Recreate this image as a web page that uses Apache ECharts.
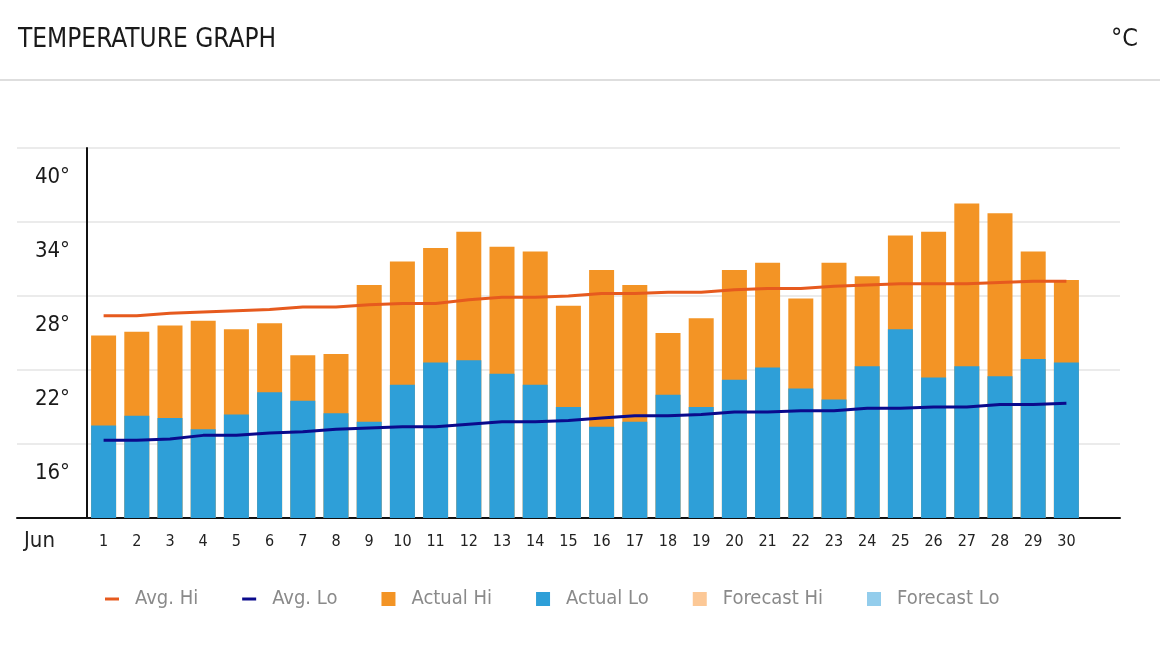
<!DOCTYPE html>
<html>
<head>
<meta charset="utf-8">
<script src="https://cdn.jsdelivr.net/npm/echarts@6/dist/echarts.min.js"></script>
<style>
html,body{margin:0;padding:0;background:#fff;}
#chart{width:1160px;height:648px;}
</style>
</head>
<body>
<div id="chart"></div>
<script>
const days = ['1','2','3','4','5','6','7','8','9','10','11','12','13','14','15','16','17','18','19','20','21','22','23','24','25','26','27','28','29','30'];
const avgHi = [26.4,26.4,26.6,26.7,26.8,26.9,27.1,27.1,27.3,27.4,27.4,27.7,27.9,27.9,28.0,28.2,28.2,28.3,28.3,28.5,28.6,28.6,28.8,28.9,29.0,29.0,29.0,29.1,29.2,29.2];
const avgLo = [16.3,16.3,16.4,16.7,16.7,16.9,17.0,17.2,17.3,17.4,17.4,17.6,17.8,17.8,17.9,18.1,18.3,18.3,18.4,18.6,18.6,18.7,18.7,18.9,18.9,19.0,19.0,19.2,19.2,19.3];
const actualHi = [24.8,25.1,25.6,26.0,25.3,25.8,23.2,23.3,28.9,30.8,31.9,33.2,32.0,31.6,27.2,30.1,28.9,25.0,26.2,30.1,30.7,27.8,30.7,29.6,32.9,33.2,35.5,34.7,31.6,29.3];
const actualLo = [17.5,18.3,18.1,17.2,18.4,20.2,19.5,18.5,17.8,20.8,22.6,22.8,21.7,20.8,19.0,17.4,17.8,20.0,19.0,21.2,22.2,20.5,19.6,22.3,25.3,21.4,22.3,21.5,22.9,22.6];
const forecastHi = [];
const forecastLo = [];
const yMin = 10, yMax = 40, yStep = 6;
const monthLabel = 'Jun';

const FONT = '"Liberation Sans Narrow", "DejaVu Sans Condensed", Roboto, sans-serif';
const LINE_ICON = 'path://M0,0M14,14M0,5.5L14,5.5L14,8.5L0,8.5Z';
const chart = echarts.init(document.getElementById('chart'), null, {renderer:'canvas'});
chart.setOption({
  backgroundColor:'#fff',
  animation:false,
  textStyle:{fontFamily:FONT},
  graphic:[
    {type:'text', left:18, top:27, style:{text:'TEMPERATURE GRAPH', font:'26px ' + FONT, fill:'#1a1a1a'}},
    {type:'text', right:22, top:27, style:{text:'°C', font:'25px ' + FONT, fill:'#1a1a1a'}},
    {type:'rect', left:0, top:79, shape:{width:1160, height:2}, style:{fill:'#dedede'}},
    {type:'text', left:24, top:530, style:{text:monthLabel, font:'22px ' + FONT, fill:'#222'}}
  ],
  legend:{
    bottom:34, left:100,
    itemWidth:14, itemHeight:14, itemGap:44,
    textStyle:{color:'#8a8a8a', fontSize:20, fontFamily:FONT, padding:[0,0,0,11]},
    data:[
      {name:'Avg. Hi', icon:LINE_ICON},
      {name:'Avg. Lo', icon:LINE_ICON},
      {name:'Actual Hi', icon:'rect'},
      {name:'Actual Lo', icon:'rect'},
      {name:'Forecast Hi', icon:'rect'},
      {name:'Forecast Lo', icon:'rect'}
    ]
  },
  grid:[
    {left:17, right:40, top:148, bottom:130},
    {left:87, right:77, top:148, bottom:130}
  ],
  xAxis:[
    {type:'category', gridIndex:0, data:days, axisLine:{show:true, lineStyle:{color:'#111', width:2}}, axisTick:{show:false}, axisLabel:{show:false}},
    {type:'category', gridIndex:1, data:days, axisLine:{show:false}, axisTick:{show:false},
     axisLabel:{color:'#222', fontSize:16, fontFamily:FONT, margin:16}}
  ],
  yAxis:[
    {type:'value', gridIndex:0, min:yMin, max:yMax, interval:yStep, axisLine:{show:false}, axisTick:{show:false}, axisLabel:{show:false},
     splitLine:{show:true, lineStyle:{color:'#e5e5e5', width:1.5}}},
    {type:'value', gridIndex:1, min:yMin, max:yMax, interval:yStep, axisLine:{show:true, lineStyle:{color:'#111', width:2}}, axisTick:{show:false},
     splitLine:{show:false},
     axisLabel:{color:'#1a1a1a', fontSize:22, fontFamily:FONT, margin:17, verticalAlign:'top', padding:[18,0,0,0],
       formatter:function(v){return v===yMin?'':v+'°';}}}
  ],
  series:[
    {name:'Actual Hi', type:'bar', xAxisIndex:1, yAxisIndex:1, data:actualHi, barWidth:25, barGap:'-100%', itemStyle:{color:'#f39425'}},
    {name:'Actual Lo', type:'bar', xAxisIndex:1, yAxisIndex:1, data:actualLo, barWidth:25, barGap:'-100%', itemStyle:{color:'#2e9fd8'}},
    {name:'Forecast Hi', type:'bar', xAxisIndex:1, yAxisIndex:1, data:forecastHi, barWidth:25, barGap:'-100%', itemStyle:{color:'#fcc896'}},
    {name:'Forecast Lo', type:'bar', xAxisIndex:1, yAxisIndex:1, data:forecastLo, barWidth:25, barGap:'-100%', itemStyle:{color:'#93cdec'}},
    {name:'Avg. Hi', type:'line', xAxisIndex:1, yAxisIndex:1, data:avgHi, symbol:'none', z:5, lineStyle:{color:'#e65a1e', width:3}, itemStyle:{color:'#e65a1e'}},
    {name:'Avg. Lo', type:'line', xAxisIndex:1, yAxisIndex:1, data:avgLo, symbol:'none', z:5, lineStyle:{color:'#0a0a8c', width:3}, itemStyle:{color:'#0a0a8c'}}
  ]
});
</script>
</body>
</html>
